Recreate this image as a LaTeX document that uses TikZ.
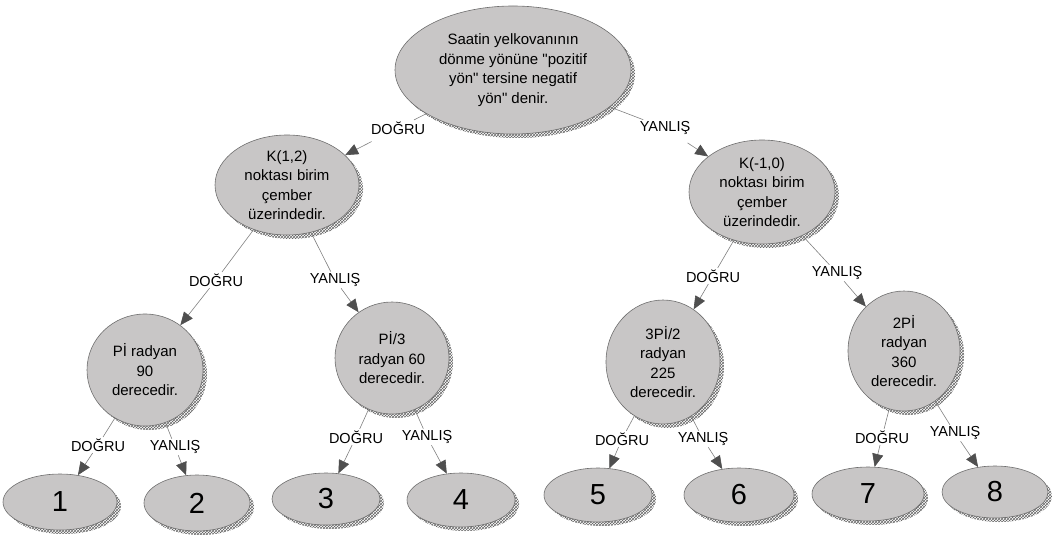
\documentclass[tikz,border=0pt]{standalone}
\usepackage{fontspec}
\setmainfont{Liberation Sans}[Ligatures=TeXOff]
\usetikzlibrary{shapes.geometric,shadows,patterns,arrows.meta}
\definecolor{nodefill}{HTML}{C8C6C6}
\definecolor{nodeline}{HTML}{6E6E6E}
\definecolor{edgeline}{HTML}{808080}
\definecolor{tipfill}{HTML}{4F4F4F}
\begin{document}
\begin{tikzpicture}[x=1pt,y=-1pt,
  decision/.style={ellipse, draw=nodeline, line width=0.6pt, fill=nodefill,
    inner sep=0pt, align=center, font=\fontsize{15}{19.5}\selectfont,
    general shadow={shadow xshift=4pt, shadow yshift=-4pt,
      pattern=crosshatch, pattern color=black!60}},
  leaf/.style={decision, font=\fontsize{29}{30}\selectfont},
  answer/.style={inner sep=1.5pt, font=\fontsize{14.5}{16}\selectfont},
  branch/.style={draw=edgeline, line width=0.6pt},
  arrowto/.style={draw=edgeline, line width=0.6pt,
    -{Triangle[length=13pt,width=11pt,color=tipfill]}}
]
\useasboundingbox (0,0) rectangle (1052,540);

% decision nodes
\node[decision, minimum width=236pt, minimum height=128pt] (root) at (513,70)
  {Saatin yelkovanının\\dönme yönüne "pozitif\\yön" tersine negatif\\yön" denir.};
\node[decision, minimum width=144pt, minimum height=100pt] (k12) at (287,185)
  {K(1,2)\\noktası birim\\çember\\üzerindedir.};
\node[decision, minimum width=146pt, minimum height=104pt] (k10) at (762,192)
  {K(-1,0)\\noktası birim\\çember\\üzerindedir.};
\node[decision, minimum width=116pt, minimum height=112pt] (p90) at (145,370)
  {Pİ radyan\\90\\derecedir.};
\node[decision, minimum width=114pt, minimum height=112pt] (p60) at (392,358)
  {Pİ/3\\radyan 60\\derecedir.};
\node[decision, minimum width=114pt, minimum height=124pt] (p225) at (663,362)
  {3Pİ/2\\radyan\\225\\derecedir.};
\node[decision, minimum width=112pt, minimum height=120pt] (p360) at (904,351)
  {2Pİ\\radyan\\360\\derecedir.};

% leaves
\node[leaf, minimum width=114pt, minimum height=56pt] (n1) at (60,502) {1};
\node[leaf, minimum width=106pt, minimum height=56pt] (n2) at (197,503) {2};
\node[leaf, minimum width=108pt, minimum height=52pt] (n3) at (326,499) {3};
\node[leaf, minimum width=108pt, minimum height=54pt] (n4) at (461,500) {4};
\node[leaf, minimum width=108pt, minimum height=54pt] (n5) at (598,495) {5};
\node[leaf, minimum width=110pt, minimum height=54pt] (n6) at (739,495) {6};
\node[leaf, minimum width=112pt, minimum height=54pt] (n7) at (868,494) {7};
\node[leaf, minimum width=106pt, minimum height=52pt] (n8) at (995,492) {8};

% answer labels
\node[answer] (rD) at (398,128) {DOĞRU};
\node[answer] (rY) at (665,128) {YANLIŞ};
\node[answer] (aD) at (216,280) {DOĞRU};
\node[answer] (aY) at (335,280) {YANLIŞ};
\node[answer] (bD) at (713,276) {DOĞRU};
\node[answer] (bY) at (837,273) {YANLIŞ};
\node[answer] (cD) at (98,445) {DOĞRU};
\node[answer] (cY) at (175,447) {YANLIŞ};
\node[answer] (dD) at (356,437) {DOĞRU};
\node[answer] (dY) at (427,437) {YANLIŞ};
\node[answer] (eD) at (622,439) {DOĞRU};
\node[answer] (eY) at (703,439) {YANLIŞ};
\node[answer] (fD) at (882,437) {DOĞRU};
\node[answer] (fY) at (955,433) {YANLIŞ};

% branches: parent -- answer, answer -> child
\draw[branch] (root) -- (rD);  \draw[arrowto, shorten <=12pt] (rD) -- (k12);
\draw[branch] (root) -- (rY);  \draw[arrowto, shorten <=12pt] (rY) -- (k10);
\draw[branch] (k12) -- (aD);   \draw[arrowto] (aD) -- (p90);
\draw[branch] (k12) -- (aY);   \draw[arrowto] (aY) -- (p60);
\draw[branch] (k10) -- (bD);   \draw[arrowto] (bD) -- (p225);
\draw[branch] (k10) -- (bY);   \draw[arrowto] (bY) -- (p360);
\draw[branch] (p90) -- (cD);   \draw[arrowto] (cD) -- (n1);
\draw[branch] (p90) -- (cY);   \draw[arrowto] (cY) -- (n2);
\draw[branch] (p60) -- (dD);   \draw[arrowto] (dD) -- (n3);
\draw[branch] (p60) -- (dY);   \draw[arrowto] (dY) -- (n4);
\draw[branch] (p225) -- (eD);  \draw[arrowto] (eD) -- (n5);
\draw[branch] (p225) -- (eY);  \draw[arrowto] (eY) -- (n6);
\draw[branch] (p360) -- (fD);  \draw[arrowto] (fD) -- (n7);
\draw[branch] (p360) -- (fY);  \draw[arrowto] (fY) -- (n8);
\end{tikzpicture}
\end{document}
